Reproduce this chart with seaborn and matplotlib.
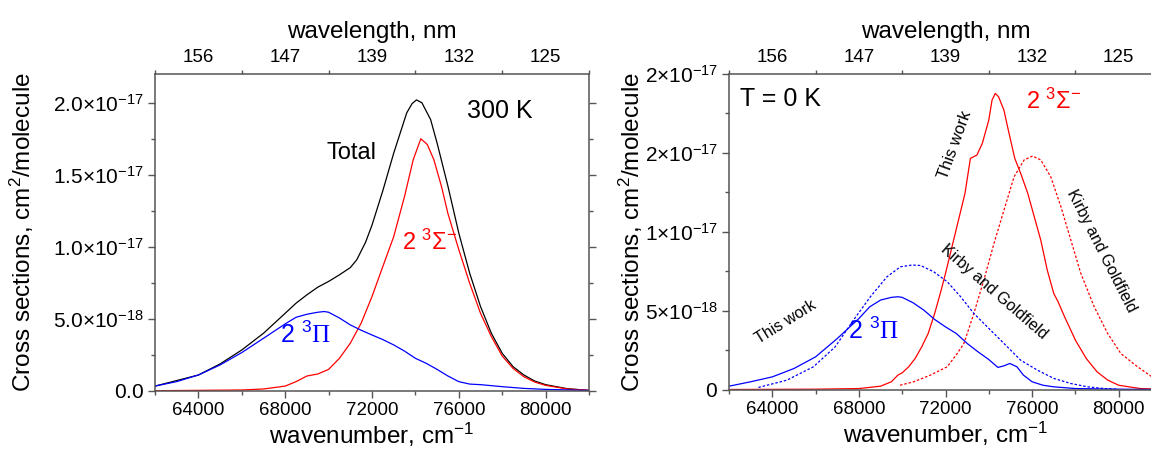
import numpy as np
import matplotlib
matplotlib.use("Agg")
import matplotlib.pyplot as plt
import seaborn as sns

# ---- data (cross sections in units of 1e-18 cm^2/molecule) ----
# 300 K panel
wn_pi_300 = [62000, 63000, 64000, 65000, 66000, 67000, 68000, 68500, 69000, 69500, 69800,
             70000, 70500, 71000, 71500, 72000, 72500, 73000, 73500, 74000, 74500, 75000,
             75500, 76000, 76500, 77000, 78000, 79000, 80000, 82000]
pi_300 = [0.32, 0.63, 1.09, 1.79, 2.65, 3.64, 4.64, 5.10, 5.31, 5.45, 5.50,
          5.45, 5.05, 4.57, 4.20, 3.87, 3.55, 3.18, 2.75, 2.25, 1.90, 1.48,
          1.02, 0.63, 0.46, 0.42, 0.28, 0.16, 0.09, 0.02]

wn_sig_300 = [62000, 66000, 67000, 68000, 68500, 69000, 69500, 70000, 70500, 71000, 71500,
              72000, 72500, 73000, 73500, 73900, 74250, 74550, 74850, 75200, 75500, 76000,
              76500, 77000, 77500, 78000, 78500, 79000, 79500, 80000, 81000, 82000]
sig_300 = [0.0, 0.05, 0.12, 0.32, 0.63, 1.02, 1.16, 1.48, 2.25, 3.30, 4.69,
           6.54, 8.63, 10.7, 13.5, 16.05, 17.5, 17.1, 16.05, 14.2, 12.3, 9.8,
           7.47, 5.38, 3.76, 2.41, 1.55, 0.97, 0.60, 0.37, 0.12, 0.03]

wn_tot_300 = [62000, 64000, 65000, 66000, 67000, 68000, 68500, 69000, 69500, 70000, 70500,
              71000, 71300, 71700, 72000, 72500, 73000, 73600, 73850, 74050, 74300, 74700,
              75000, 75500, 76000, 76500, 77000, 77500, 78000, 78500, 79000, 79500, 80000,
              81000, 82000]
tot_300 = [0.32, 1.09, 1.86, 2.83, 3.99, 5.38, 6.08, 6.66, 7.19, 7.59, 8.05,
           8.55, 9.10, 10.3, 11.5, 13.9, 16.5, 19.3, 19.95, 20.2, 20.0, 18.84,
           17.2, 14.2, 10.95, 8.17, 5.85, 3.99, 2.60, 1.67, 1.09, 0.67, 0.42,
           0.14, 0.02]

# 0 K panel
wn_pi_0 = [62000, 63000, 64000, 65000, 66000, 67000, 68000, 68500, 69000, 69500, 69800,
           70000, 70500, 71000, 71500, 72000, 72500, 73000, 73500, 74000, 74420, 74700,
           74970, 75300, 75600, 76000, 76500, 77000, 78000, 80000, 82000]
pi_0 = [0.21, 0.49, 0.80, 1.33, 2.07, 3.23, 4.50, 5.24, 5.67, 5.84, 5.88,
        5.84, 5.50, 5.03, 4.44, 3.97, 3.55, 2.92, 2.39, 1.90, 1.40, 1.50,
        1.65, 1.44, 0.91, 0.49, 0.27, 0.17, 0.06, 0.02, 0.0]

wn_pi_kg = [63357, 64670, 65900, 66900, 67750, 68530, 69300, 69920, 70460, 70850, 71460,
            72080, 72700, 73310, 73930, 74700, 75470, 76240, 77010, 77790, 78560, 79330, 79900]
pi_kg = [0.13, 0.59, 1.44, 2.70, 4.40, 5.88, 7.15, 7.78, 7.89, 7.86, 7.46,
         6.83, 5.88, 4.82, 3.97, 2.92, 1.86, 1.23, 0.70, 0.38, 0.17, 0.06, 0.02]

wn_sig_0 = [62000, 66000, 68000, 69000, 69500, 69800, 70000, 70300, 70600, 70900, 71200,
            71500, 71800, 72000, 72300, 72600, 72900, 73150, 73450, 73700, 74000, 74150,
            74300, 74450, 74700, 74900, 75200, 75500, 75800, 76100, 76400, 76700, 77000,
            77200, 77500, 78000, 78500, 79000, 79500, 80000, 81000, 82000]
sig_0 = [0.0, 0.02, 0.06, 0.21, 0.49, 0.91, 1.06, 1.44, 1.97, 2.70, 3.55,
         4.82, 6.30, 7.36, 9.05, 10.74, 12.43, 14.65, 14.86, 15.6, 17.08, 18.35,
         18.77, 18.56, 17.7, 16.45, 14.65, 13.6, 12.43, 10.95, 9.47, 7.57, 6.09,
         5.56, 4.61, 3.13, 1.97, 1.12, 0.59, 0.27, 0.06, 0.02]

wn_sig_kg = [69900, 70530, 71300, 72080, 72540, 72850, 73310, 73770, 74240, 74700, 75170,
             75630, 76020, 76400, 76860, 77330, 77790, 78250, 78870, 79490, 80100, 80870, 81540, 82000]
sig_kg = [0.27, 0.49, 0.91, 1.44, 2.28, 2.92, 4.82, 6.93, 9.26, 11.37, 13.49,
          14.55, 14.8, 14.55, 13.49, 11.59, 9.47, 7.36, 5.24, 3.55, 2.28, 1.44, 0.80, 0.55]

# ticks
wn_major = [64000, 68000, 72000, 76000, 80000]
wn_minor = [62000, 66000, 70000, 74000, 78000, 82000]
wl_labels = ["156", "147", "139", "132", "125"]
y_major_300 = [0, 5, 10, 15, 20]
y_labels_300 = [r"$0.0$", r"$5.0{\times}10^{-18}$", r"$1.0{\times}10^{-17}$",
                r"$1.5{\times}10^{-17}$", r"$2.0{\times}10^{-17}$"]
y_major_0 = [0, 5, 10, 15, 20]
y_labels_0 = [r"$0$", r"$5{\times}10^{-18}$", r"$1{\times}10^{-17}$",
              r"$2{\times}10^{-17}$", r"$2{\times}10^{-17}$"]
y_minor = [2.5, 7.5, 12.5, 17.5]

sns.set_style("ticks")
plt.rcParams["font.family"] = ["Liberation Sans", "DejaVu Sans"]
plt.rcParams["mathtext.fontset"] = "custom"
plt.rcParams["mathtext.rm"] = "Liberation Serif"
plt.rcParams["mathtext.sf"] = "Liberation Sans"
plt.rcParams["mathtext.default"] = "regular"
plt.rcParams["text.color"] = "black"
plt.rcParams["axes.labelcolor"] = "black"

SPINE = "#555555"
BLUE = "#0000ff"
RED = "#ff0000"
LW = 0.9

fig = plt.figure(figsize=(11.51, 4.55), dpi=100)
W, H = 1151, 455
ax1 = fig.add_axes([155 / W, 1 - 390.7 / H, 434 / W, 316.7 / H])
ax2 = fig.add_axes([729 / W, 1 - 389.5 / H, 433 / W, 315.5 / H])


def style_axes(ax, ymax, yticks, ylabels):
    ax.set_xlim(62000, 82000)
    ax.set_ylim(0, ymax)
    ax.set_xticks(wn_major)
    ax.set_xticklabels([str(v) for v in wn_major])
    ax.set_xticks(wn_minor, minor=True)
    ax.set_yticks(yticks)
    ax.set_yticklabels(ylabels)
    ax.set_yticks(y_minor, minor=True)
    for s in ax.spines.values():
        s.set_visible(True)
        s.set_color(SPINE)
        s.set_linewidth(1.1)
    ax.tick_params(axis="both", which="major", color=SPINE, labelcolor="black",
                   width=1.0, length=5, direction="out", pad=3)
    ax.tick_params(axis="x", which="major", labelsize=13.5)
    ax.tick_params(axis="y", which="major", labelsize=15)
    ax.tick_params(axis="both", which="minor", color=SPINE, width=1.0, length=3,
                   direction="out")
    ax.tick_params(axis="y", which="both", right=True, labelright=False)
    ax.set_xlabel("wavenumber, cm$^{-1}$", fontsize=17.5)
    ax.set_ylabel("Cross sections, cm$^{2}$/molecule", fontsize=17.5)
    ax.xaxis.set_label_coords(0.5, -0.095)
    ax.xaxis.label.set_va("top")
    ax.grid(False)

    top = ax.twiny()
    top.set_xlim(62000, 82000)
    top.set_xticks(wn_minor)
    top.set_xticklabels([])
    top.set_xticks(wn_major, minor=True)
    top.set_xticklabels(wl_labels, minor=True)
    top.tick_params(axis="x", which="major", color=SPINE, width=1.0, length=3,
                    direction="out")
    top.tick_params(axis="x", which="minor", length=0, labelsize=13.5, pad=6,
                    labelcolor="black")
    top.set_xlabel("wavelength, nm", fontsize=17.5, labelpad=8)
    for s in top.spines.values():
        s.set_visible(False)
    return top


# ---- left: 300 K ----
style_axes(ax1, 22, y_major_300, y_labels_300)
sns.lineplot(x=wn_tot_300, y=tot_300, ax=ax1, color="black", lw=LW)
sns.lineplot(x=wn_sig_300, y=sig_300, ax=ax1, color=RED, lw=LW)
sns.lineplot(x=wn_pi_300, y=pi_300, ax=ax1, color=BLUE, lw=LW)
ax1.yaxis.set_label_coords(-0.275, 0.5)

ax1.text(76380, 19.4, "300 K", fontsize=18, ha="left", va="center")
ax1.text(69910, 16.5, "Total", fontsize=17, ha="left", va="center")
ax1.text(73370, 10.3, r"2 $^{3}\Sigma^{-}$", fontsize=17, color=RED, ha="left", va="center")
ax1.text(67760, 3.9, r"2 $^{\mathsf{3}}\mathrm{\Pi}$", fontsize=18, color=BLUE,
         ha="left", va="center")

# ---- right: 0 K ----
style_axes(ax2, 20, y_major_0, y_labels_0)
ax2.tick_params(axis="y", which="both", right=False)
sns.lineplot(x=wn_sig_0, y=sig_0, ax=ax2, color=RED, lw=LW)
sns.lineplot(x=wn_sig_kg, y=sig_kg, ax=ax2, color=RED, lw=LW, linestyle=(0, (2, 1.5)))
sns.lineplot(x=wn_pi_0, y=pi_0, ax=ax2, color=BLUE, lw=LW)
sns.lineplot(x=wn_pi_kg, y=pi_kg, ax=ax2, color=BLUE, lw=LW, linestyle=(0, (2, 1.5)))
ax2.yaxis.set_label_coords(-0.195, 0.5)

ax2.text(62510, 18.4, "T = 0 K", fontsize=18, ha="left", va="center")
ax2.text(75700, 18.3, r"2 $^{3}\Sigma^{-}$", fontsize=17, color=RED, ha="left", va="center")
ax2.text(67510, 3.7, r"2 $^{\mathsf{3}}\mathrm{\Pi}$", fontsize=18, color=BLUE,
         ha="left", va="center")
ax2.text(72420, 15.5, "This work", fontsize=12, rotation=70, ha="center", va="center",
         rotation_mode="anchor")
ax2.text(79180, 8.8, "Kirby and Goldfield", fontsize=11.5, rotation=-63, ha="center",
         va="center", rotation_mode="anchor")
ax2.text(74240, 6.2, "Kirby and Goldfield", fontsize=11.5, rotation=-41, ha="center",
         va="center", rotation_mode="anchor")
ax2.text(64620, 4.25, "This work", fontsize=11.5, rotation=32, ha="center", va="center",
         rotation_mode="anchor")

fig.savefig("out.png", dpi=100)
